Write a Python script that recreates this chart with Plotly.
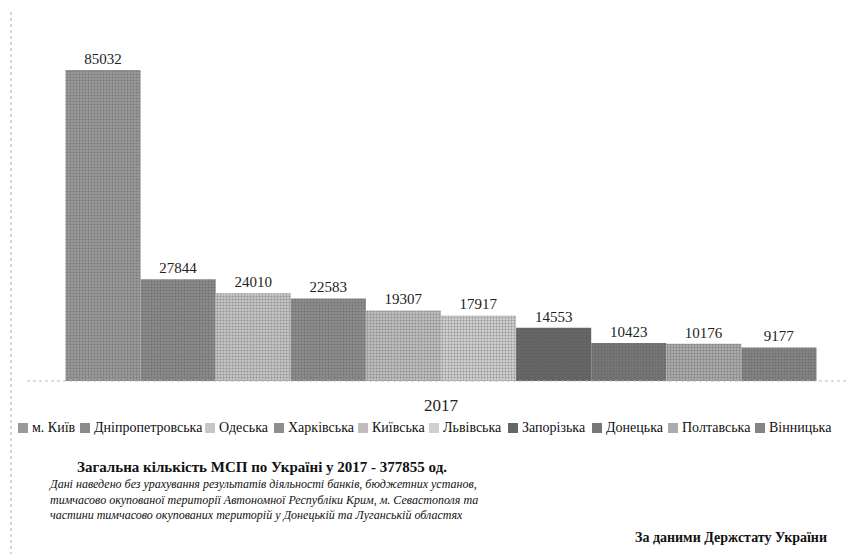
import plotly.graph_objects as go

YEAR = ['2017']
REGIONS = ['м. Київ', 'Дніпропетровська', 'Одеська', 'Харківська', 'Київська',
           'Львівська', 'Запорізька', 'Донецька', 'Полтавська', 'Вінницька']
VALUES = [85032, 27844, 24010, 22583, 19307, 17917, 14553, 10423, 10176, 9177]
GRAYS = ['#9a9a9a', '#8a8a8a', '#c6c6c6', '#8e8e8e', '#bebebe',
         '#d0d0d0', '#666666', '#777777', '#ababab', '#848484']

FONT = 'Liberation Serif'

# the page body has an 8px margin, so the figure starts at (8, 8) in the window
OFF = 8
FIG_W, FIG_H = 855 - OFF, 554 - OFF

# plot area in window pixels (used to place the hand-made legend and notes)
L, R, T, B = 27, 855, 40, 381
W, H = R - L, B - T


def px(x):
    return (x - L) / W


def py(y):
    return (B - y) / H


fig = go.Figure()
for name, v, c in zip(REGIONS, VALUES, GRAYS):
    fig.add_trace(go.Bar(
        x=YEAR, y=[v], name=name,
        marker=dict(color=c, line=dict(width=0),
                    pattern=dict(shape='.', size=3, solidity=0.35,
                                 fgcolor='#555555', bgcolor=c, fillmode='overlay')),
        text=[str(v)], textposition='outside', cliponaxis=False,
        textfont=dict(family=FONT, size=15, color='#222222'),
    ))

fig.update_layout(
    width=FIG_W, height=FIG_H,
    barmode='group', bargap=0.093, bargroupgap=0,
    plot_bgcolor='white', paper_bgcolor='white',
    margin=dict(l=L - OFF, r=855 - R, t=T - OFF, b=554 - B, autoexpand=False),
    font=dict(family=FONT, color='#222222'),
    showlegend=False,
)
fig.update_xaxes(showline=False, showgrid=False, ticks='', ticklabelstandoff=12,
                 tickfont=dict(family=FONT, size=17))
fig.update_yaxes(visible=False, range=[0, 93234])

# dotted baseline and left frame edge
fig.add_shape(type='line', xref='paper', yref='paper', x0=0, x1=1, y0=0, y1=0,
              line=dict(color='#bbbbbb', width=1, dash='dot'))
fig.add_shape(type='line', xref='paper', yref='paper', x0=px(11), x1=px(11),
              y0=py(12), y1=py(554),
              line=dict(color='#aaaaaa', width=1, dash='dot'))

# legend in one row, as in the source picture
LEGEND_X = [18, 80, 205, 274, 358, 429, 508, 592, 668, 755]
LEGEND_Y = 428
for name, c, x in zip(REGIONS, GRAYS, LEGEND_X):
    fig.add_shape(type='rect', xref='paper', yref='paper',
                  x0=px(x), x1=px(x + 10), y0=py(LEGEND_Y - 5), y1=py(LEGEND_Y + 5),
                  fillcolor=c, line=dict(width=0))
    fig.add_annotation(text=name, xref='paper', yref='paper', x=px(x + 12), y=py(LEGEND_Y),
                       xanchor='left', yanchor='middle', showarrow=False,
                       font=dict(family=FONT, size=14, color='#111111'))

fig.add_annotation(text='<b>Загальна кількість МСП по Україні у 2017 - 377855 од.</b>',
                   xref='paper', yref='paper', x=px(75), y=py(467),
                   xanchor='left', yanchor='middle', showarrow=False,
                   font=dict(family=FONT, size=15, color='#111111'))
fig.add_annotation(text='<i>Дані наведено без урахування результатів діяльності банків, бюджетних установ,<br>'
                        'тимчасово окупованої території Автономної Республіки Крим, м. Севастополя та<br>'
                        'частини тимчасово окупованих територій у Донецькій та Луганській областях</i>',
                   xref='paper', yref='paper', x=px(47), y=py(499),
                   xanchor='left', yanchor='middle', align='left', showarrow=False,
                   font=dict(family=FONT, size=12, color='#111111'))
fig.add_annotation(text='<b>За даними Держстату України</b>',
                   xref='paper', yref='paper', x=px(829), y=py(537),
                   xanchor='right', yanchor='middle', showarrow=False,
                   font=dict(family=FONT, size=14, color='#111111'))

fig.write_html('out.html')
